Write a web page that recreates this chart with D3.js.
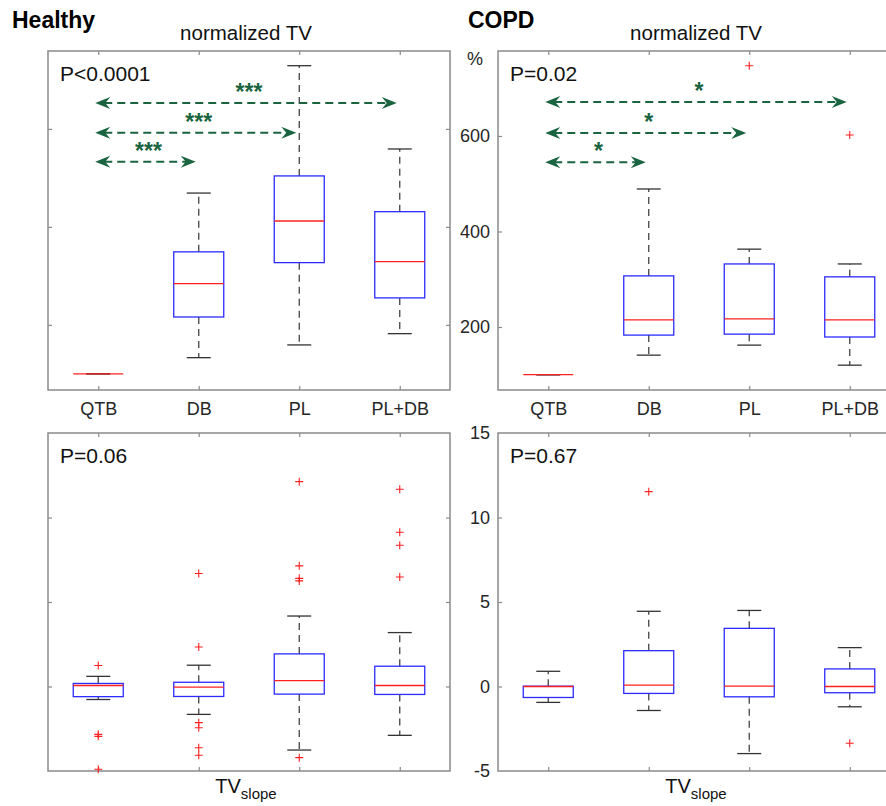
<!DOCTYPE html>
<html lang="en">
<head>
    <meta charset="UTF-8">
    <title>Normalized TV and TV slope</title>
    <script src="https://d3js.org/d3.v7.min.js"></script>
    <style>
        body { margin: 0; background: #fff; }
        text { font-family: "Liberation Sans", Arial, Helvetica, sans-serif; }
    </style>
</head>
<body>
<script>
    const width  = 886;
    const height = 806;

    const groups = ["QTB", "DB", "PL", "PL+DB"];

    // box stats per group: [whisker low, q1, median, q3, whisker high]
    const healthyTV    = [[100, 100, 100, 100, 100], [133, 216, 284, 349, 469], [159, 327, 412, 504, 729], [182, 255, 329, 431, 559]];
    const healthyTVOut = [[], [], [], []];
    const copdTV       = [[100, 100, 100, 100, 100], [141, 183, 215, 307, 489], [162, 185, 217, 332, 363], [120, 179, 215, 305, 332]];
    const copdTVOut    = [[], [], [747], [602]];

    const healthySlope    = [[-0.77, -0.6, 0.06, 0.18, 0.6], [-1.65, -0.59, -0.04, 0.25, 1.26], [-3.76, -0.45, 0.35, 1.93, 4.17], [-2.89, -0.47, 0.06, 1.2, 3.19]];
    const healthySlopeOut = [[1.24, -2.83, -2.95, -4.9], [6.69, 2.34, -2.14, -2.44, -3.62, -4.07], [12.12, 7.14, 6.4, 6.25, -4.21], [11.67, 9.13, 8.36, 6.48]];
    const copdSlope       = [[-0.94, -0.65, 0, 0.02, 0.9], [-1.42, -0.41, 0.08, 2.12, 4.45], [-3.97, -0.61, 0.02, 3.44, 4.5], [-1.2, -0.37, 0, 1.04, 2.3]];
    const copdSlopeOut    = [[], [11.53], [], [-3.36]];

    // significance brackets: QTB vs each group
    const sigTo          = ["DB", "PL", "PL+DB"];
    const healthySigLvl  = [533, 592, 653];
    const healthySigMark = ["***", "***", "***"];
    const copdSigLvl     = [545, 606, 671];
    const copdSigMark    = ["*", "*", "*"];

    const tvTicks    = [200, 400, 600];
    const slopeTicks = [-5, 0, 5, 10, 15];

    const boxColor = "#2b2bff";
    const medColor = "#ff2020";
    const sigColor = "#1a6440";
    const axColor  = "#8a8a8a";

    const svg = d3.select("body").append("svg")
        .attr("width", width)
        .attr("height", height);

    svg.append("text").attr("x", 12).attr("y", 28)
        .style("font-size", "23px").style("font-weight", "bold").text("Healthy");
    svg.append("text").attr("x", 468).attr("y", 28)
        .style("font-size", "23px").style("font-weight", "bold").text("COPD");

    function panel(opt) {
        const x = d3.scaleLinear().domain([0.5, 4.5]).range([opt.left, opt.left + 402]);
        const y = d3.scaleLinear().domain(opt.domain).range([opt.top + opt.h, opt.top]);
        const g = svg.append("g");
        const bw = 50, cw = 24;

        // frame
        g.append("rect")
            .attr("x", opt.left).attr("y", opt.top)
            .attr("width", 402).attr("height", opt.h)
            .attr("fill", "none").attr("stroke", axColor).attr("stroke-width", 1.5);

        // ticks on all four sides, inward
        const axes = [
            d3.axisBottom(x).tickValues([1, 2, 3, 4]).tickSizeInner(-4).tickSizeOuter(0)
                .tickFormat(opt.xLabels ? (i => groups[i - 1]) : ""),
            d3.axisTop(x).tickValues([1, 2, 3, 4]).tickSizeInner(-4).tickSizeOuter(0).tickFormat(""),
            d3.axisLeft(y).tickValues(opt.ticks).tickSizeInner(-4).tickSizeOuter(0)
                .tickFormat(opt.yLabels ? (d => String(d)) : ""),
            d3.axisRight(y).tickValues(opt.ticks).tickSizeInner(-4).tickSizeOuter(0).tickFormat("")
        ];
        const shifts = [[0, opt.top + opt.h], [0, opt.top], [opt.left, 0], [opt.left + 402, 0]];
        axes.forEach((a, k) => {
            const ag = g.append("g").attr("transform", "translate(" + shifts[k] + ")").call(a);
            ag.select(".domain").remove();
            ag.selectAll(".tick line").attr("stroke", axColor).attr("stroke-width", 1.2);
            ag.selectAll("text").attr("fill", "#262626").style("font-size", "18px")
                .style("font-family", '"Liberation Sans", Arial, sans-serif');
            if (k === 0) ag.selectAll("text").attr("dy", "0.71em").attr("y", 12);
            if (k === 2) ag.selectAll("text").attr("x", -8);
            ag.selectAll(".tick").filter(d => d === opt.domain[0] || d === opt.domain[1]).select("line").remove();
        });

        // boxes
        opt.stats.forEach((s, i) => {
            const cx = x(i + 1);
            g.append("line").attr("x1", cx).attr("x2", cx).attr("y1", y(s[3])).attr("y2", y(s[4]))
                .attr("stroke", "#444").attr("stroke-width", 1.3).attr("stroke-dasharray", "7,5");
            g.append("line").attr("x1", cx).attr("x2", cx).attr("y1", y(s[1])).attr("y2", y(s[0]))
                .attr("stroke", "#444").attr("stroke-width", 1.3).attr("stroke-dasharray", "7,5");
            [s[0], s[4]].forEach(v => {
                g.append("line").attr("x1", cx - cw / 2).attr("x2", cx + cw / 2).attr("y1", y(v)).attr("y2", y(v))
                    .attr("stroke", "#333").attr("stroke-width", 1.3);
            });
            g.append("rect").attr("x", cx - bw / 2).attr("y", y(s[3]))
                .attr("width", bw).attr("height", y(s[1]) - y(s[3]))
                .attr("fill", "none").attr("stroke", boxColor).attr("stroke-width", 1.3);
            g.append("line").attr("x1", cx - bw / 2).attr("x2", cx + bw / 2).attr("y1", y(s[2])).attr("y2", y(s[2]))
                .attr("stroke", medColor).attr("stroke-width", 1.3);
            opt.out[i].forEach(v => {
                g.append("path")
                    .attr("d", "M" + (cx - 4) + "," + y(v) + "h8M" + cx + "," + (y(v) - 4) + "v8")
                    .attr("stroke", medColor).attr("stroke-width", 1.1);
            });
        });

        // significance arrows
        if (opt.sigLvl) {
            opt.sigLvl.forEach((lv, k) => {
                const x1 = x(1) - 3, x2 = x(groups.indexOf(sigTo[k]) + 1) - 3, yy = y(lv);
                g.append("line").attr("x1", x1 + 9).attr("x2", x2 - 9).attr("y1", yy).attr("y2", yy)
                    .attr("stroke", sigColor).attr("stroke-width", 2).attr("stroke-dasharray", "8,5");
                g.append("path")
                    .attr("d", `M${x1},${yy}L${x1 + 15},${yy - 6}L${x1 + 10},${yy}L${x1 + 15},${yy + 6}Z`)
                    .attr("fill", sigColor);
                g.append("path")
                    .attr("d", `M${x2},${yy}L${x2 - 15},${yy - 6}L${x2 - 10},${yy}L${x2 - 15},${yy + 6}Z`)
                    .attr("fill", sigColor);
                g.append("text").attr("x", (x1 + x2) / 2 + 3).attr("y", yy - 3)
                    .attr("text-anchor", "middle").attr("fill", sigColor)
                    .style("font-size", "23px").style("font-weight", "bold").text(opt.sigMark[k]);
            });
        }

        // p value
        g.append("text").attr("x", opt.left + 12).attr("y", opt.top + 30)
            .style("font-size", "21px").attr("fill", "#111").text(opt.p);

        // titles
        const mid = (x(1) + x(4)) / 2 - 3;
        if (opt.title) {
            g.append("text").attr("x", mid).attr("y", opt.top - 11)
                .attr("text-anchor", "middle").style("font-size", "20.5px").attr("fill", "#111").text(opt.title);
        }
        if (opt.xTitle) {
            const t = g.append("text").attr("x", mid).attr("y", opt.top + opt.h + 22)
                .attr("text-anchor", "middle").attr("fill", "#111").style("font-size", "20px");
            t.append("tspan").text("TV");
            t.append("tspan").attr("dy", 6).style("font-size", "15px").text("slope");
        }
        return g;
    }

    panel({left: 48, top: 51, h: 339, domain: [67, 759], ticks: tvTicks, stats: healthyTV, out: healthyTVOut,
           xLabels: true, yLabels: false, title: "normalized TV", p: "P<0.0001",
           sigLvl: healthySigLvl, sigMark: healthySigMark});
    panel({left: 498, top: 51, h: 339, domain: [68, 778], ticks: tvTicks, stats: copdTV, out: copdTVOut,
           xLabels: true, yLabels: true, title: "normalized TV", p: "P=0.02",
           sigLvl: copdSigLvl, sigMark: copdSigMark});
    panel({left: 48, top: 433, h: 338, domain: [-5, 15], ticks: slopeTicks, stats: healthySlope, out: healthySlopeOut,
           xLabels: false, yLabels: false, xTitle: true, p: "P=0.06"});
    panel({left: 498, top: 433, h: 338, domain: [-5, 15], ticks: slopeTicks, stats: copdSlope, out: copdSlopeOut,
           xLabels: false, yLabels: true, xTitle: true, p: "P=0.67"});

    svg.append("text").attr("x", 475).attr("y", 65).attr("text-anchor", "middle")
        .style("font-size", "18px").attr("fill", "#262626").text("%");
</script>
</body>
</html>
